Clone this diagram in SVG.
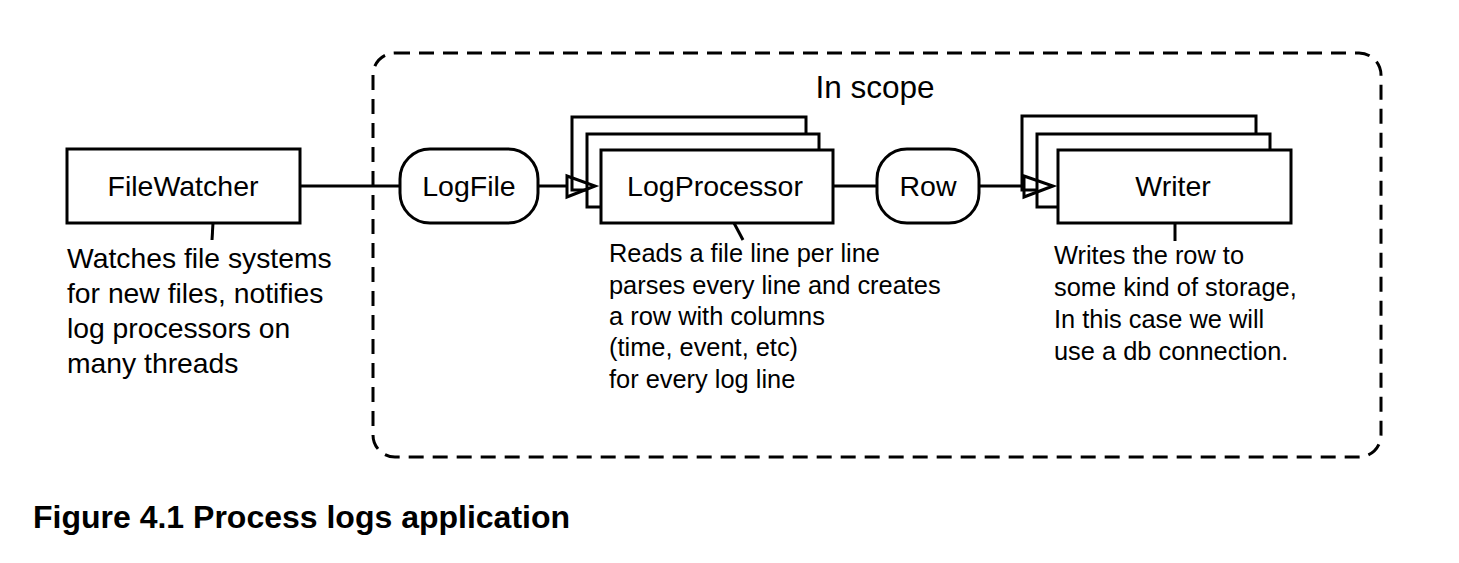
<svg xmlns="http://www.w3.org/2000/svg" width="1459" height="563" viewBox="0 0 1459 563">
<style>
.box{fill:#fff;stroke:#000;stroke-width:3}
.ln{fill:none;stroke:#000;stroke-width:3}
.lbl{font-family:"Liberation Sans",Arial,sans-serif;font-size:28.5px;fill:#000;text-anchor:middle}
.desc{font-family:"Liberation Sans",Arial,sans-serif;font-size:25.4px;fill:#000}
.descL{font-family:"Liberation Sans",Arial,sans-serif;font-size:28.3px;fill:#000}
.scope{fill:none;stroke:#000;stroke-width:3;stroke-dasharray:15 9}
.head{fill:none;stroke:#000;stroke-width:3;stroke-linejoin:miter}
</style>
<rect width="1459" height="563" fill="#fff"/>
<g id="scope">
<rect class="scope" x="373" y="53" width="1008" height="404" rx="22" ry="22"/>
<text x="875" y="98" class="lbl" style="font-size:31.5px">In scope</text>
</g>
<g id="connectors">
<line class="ln" x1="300" y1="186" x2="400" y2="186"/>
<line class="ln" x1="538" y1="186" x2="567" y2="186"/>
<line class="ln" x1="833" y1="186" x2="877" y2="186"/>
<line class="ln" x1="979" y1="186" x2="1024" y2="186"/>
</g>
<g id="filewatcher">
<rect class="box" x="67" y="149" width="233" height="74"/>
<text x="183" y="196" class="lbl">FileWatcher</text>
<line class="ln" x1="213" y1="223" x2="212" y2="240"/>
<text class="descL" x="67"><tspan x="67" y="268">Watches file systems</tspan><tspan x="67" y="303">for new files, notifies</tspan><tspan x="67" y="338">log processors on</tspan><tspan x="67" y="373">many threads</tspan></text>
</g>
<g id="logfile">
<rect class="box" x="400" y="149" width="138" height="74" rx="30" ry="30"/>
<text x="469" y="196" class="lbl">LogFile</text>
</g>
<g id="logprocessor">
<rect class="box" x="572" y="117" width="234" height="73"/>
<rect class="box" x="587" y="134" width="232" height="73"/>
<polygon class="head" points="567,176 595,186 567,197"/>
<rect class="box" x="601" y="150" width="232" height="73"/>
<text x="715" y="196" class="lbl">LogProcessor</text>
<line class="ln" x1="734" y1="223" x2="743" y2="240"/>
<text class="desc"><tspan x="609" y="262">Reads a file line per line</tspan><tspan x="609" y="294">parses every line and creates</tspan><tspan x="609" y="325">a row with columns</tspan><tspan x="609" y="356">(time, event, etc)</tspan><tspan x="609" y="388">for every log line</tspan></text>
</g>
<g id="row">
<rect class="box" x="877" y="149" width="102" height="74" rx="30" ry="30"/>
<text x="928" y="196" class="lbl">Row</text>
</g>
<g id="writer">
<rect class="box" x="1022" y="116" width="234" height="74"/>
<rect class="box" x="1037" y="134" width="233" height="73"/>
<polygon class="head" points="1024,176 1053,186 1024,197"/>
<rect class="box" x="1058" y="150" width="233" height="73"/>
<text x="1173" y="196" class="lbl">Writer</text>
<line class="ln" x1="1175" y1="223" x2="1175" y2="241"/>
<text class="desc"><tspan x="1054" y="264">Writes the row to</tspan><tspan x="1054" y="296">some kind of storage,</tspan><tspan x="1054" y="328">In this case we will</tspan><tspan x="1054" y="360">use a db connection.</tspan></text>
</g>
<text x="33" y="528" style="font-family:'Liberation Sans',Arial,sans-serif;font-size:32px;font-weight:bold;fill:#000">Figure 4.1 Process logs application</text>
</svg>
